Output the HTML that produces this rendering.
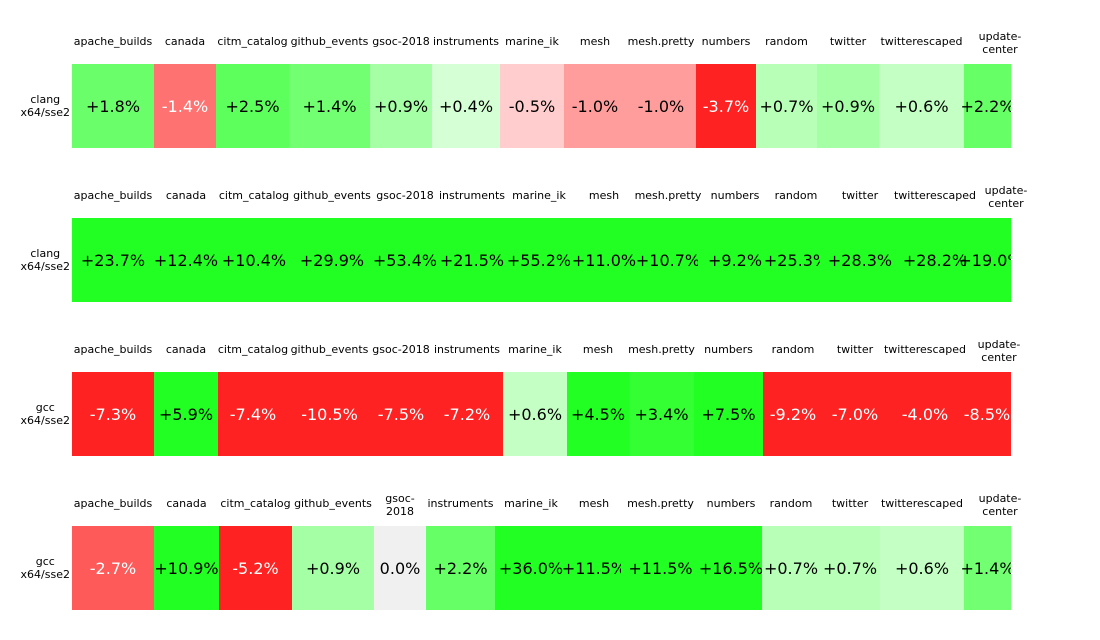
<!DOCTYPE html>
<html><head><meta charset="utf-8">
<style>
body{margin:0;background:#fff;width:1100px;height:640px;overflow:hidden;font-family:"DejaVu Sans","Liberation Sans",sans-serif;}
#root{position:relative;width:1100px;height:640px;}
.clip{position:absolute;left:72px;width:939px;height:84px;overflow:hidden;}
.cell{position:absolute;top:0;height:84px;display:flex;align-items:center;justify-content:center;font-size:16px;white-space:nowrap;}
.lab{position:absolute;font-size:11px;color:#000;text-align:center;line-height:13px;white-space:nowrap;transform:translateX(-50%);}
.rl{position:absolute;right:1030px;font-size:11px;text-align:center;line-height:13px;}
</style></head><body>
<div id="root"></div>
<script>
const categories = ["apache_builds","canada","citm_catalog","github_events","gsoc-2018","instruments","marine_ik","mesh","mesh.pretty","numbers","random","twitter","twitterescaped","update-center"];
const rowLabels = ["clang\nx64/sse2","clang\nx64/sse2","gcc\nx64/sse2","gcc\nx64/sse2"];
const row1Values = [1.8,-1.4,2.5,1.4,0.9,0.4,-0.5,-1.0,-1.0,-3.7,0.7,0.9,0.6,2.2];
const row2Values = [23.7,12.4,10.4,29.9,53.4,21.5,55.2,11.0,10.7,9.2,25.3,28.3,28.2,19.0];
const row3Values = [-7.3,5.9,-7.4,-10.5,-7.5,-7.2,0.6,4.5,3.4,7.5,-9.2,-7.0,-4.0,-8.5];
const row4Values = [-2.7,10.9,-5.2,0.9,0.0,2.2,36.0,11.5,11.5,16.5,0.7,0.7,0.6,1.4];
const rowsData = [row1Values,row2Values,row3Values,row4Values];

const layout = [
  {top:64, edges:[72,154,216,289,370,432,500,564,626,696,756,817,879,964,1011]},
  {top:218,edges:[72,154,218,290,374,436,508,570,638,698,772,820,900,970,1011]},
  {top:372,edges:[72,154,218,288,371,431,503,567,629,694,763,823,887,963,1011]},
  {top:526,edges:[72,154,219,292,374,426,495,567,621,700,762,820,880,964,1011]}
];
const colTable=[[0,240],[0.4,213],[0.6,196],[0.7,184],[0.9,165],[1.0,156],[1.4,114],[1.8,106],[2.2,102],[2.5,92],[2.7,90],[3.7,34]];
function chan(a){
  if(a>=3.7) return 34;
  for(let i=1;i<colTable.length;i++){
    if(a<=colTable[i][0]){const[a0,c0]=colTable[i-1],[a1,c1]=colTable[i];return Math.round(c0+(c1-c0)*(a-a0)/(a1-a0));}
  }
  return 34;
}
function color(v){
  if(v===0) return "rgb(240,240,240)";
  const c=chan(Math.abs(v));
  return v>0?`rgb(${c},255,${c})`:`rgb(255,${c},${c})`;
}
function fmt(v){return v===0?"0.0%":(v>0?"+":"")+v.toFixed(1)+"%";}
const root=document.getElementById('root');
rowsData.forEach((vals,r)=>{
  const L=layout[r];
  const rl=document.createElement('div');
  rl.className='rl';
  
  
  rl.style.top=(L.top+29)+'px';
  rl.innerHTML=rowLabels[r].replace('\n','<br>');
  root.appendChild(rl);
  const clip=document.createElement('div');
  clip.className='clip';
  
  
  clip.style.top=L.top+'px';
  root.appendChild(clip);
  vals.forEach((v,i)=>{
    const x0=L.edges[i],x1=L.edges[i+1];
    const cell=document.createElement('div');
    cell.className='cell';
    
    
    cell.style.left=(x0-72)+'px';
    cell.style.width=(x1-x0)+'px';
    cell.style.background=color(v);
    const c=chan(Math.abs(v));
    cell.style.color=(v<0&&c<130)?'#fff':'#000';
    cell.textContent=fmt(v);
    clip.appendChild(cell);
    const name=categories[i];
    const lab=document.createElement('div');
    lab.className='lab';
    
    
    let cx=(x0+x1)/2;
    let twoLine=false, txt=name;
    if(name==='update-center'){txt='update-<br>center';twoLine=true;cx=x0+36;}
    if(name==='gsoc-2018'&&r===3){txt='gsoc-<br>2018';twoLine=true;}
    lab.style.left=cx+'px';
    lab.style.top=(L.top-(twoLine?34:29))+'px';
    lab.innerHTML=txt;
    root.appendChild(lab);
  });
});
</script>
</body></html>
